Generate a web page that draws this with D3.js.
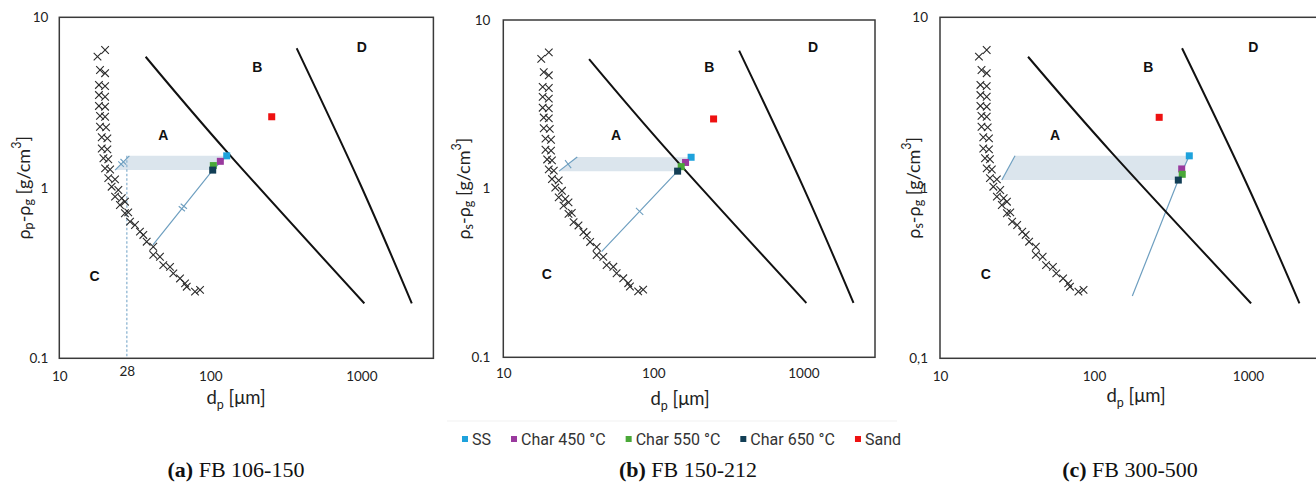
<!DOCTYPE html>
<html>
<head>
<meta charset="utf-8">
<script src="https://cdn.jsdelivr.net/npm/d3@7"></script>
<style>
  body { margin: 0; background: #fff; }
  svg { display: block; }
</style>
</head>
<body>
<svg id="chart" width="1316" height="482"></svg>
<script>
// ---- Data ---------------------------------------------------------------
const xTickValues = [10, 100, 1000];
const yTickValues = [0.1, 1, 10];
const yTickLabelsDot = ["0.1", "1", "10"];
const yTickLabelsComma = ["0,1", "1", "10"];

// Geldart group boundaries: dp [µm], density difference [g/cm3]
const boundaryCA = [
  [20.1, 6.43], [17.9, 5.88], [18.6, 4.91], [20.1, 4.70], [18.3, 4.01], [20.1, 3.95],
  [18.3, 3.50], [20.1, 3.42], [18.3, 3.02], [20.1, 2.99], [18.6, 2.64], [20.1, 2.61],
  [18.6, 2.28], [20.4, 2.26], [19.1, 1.98], [20.8, 1.95], [19.1, 1.70], [20.8, 1.68],
  [19.6, 1.49], [21.1, 1.47], [20.1, 1.30], [21.7, 1.28], [21.1, 1.14], [23.4, 1.12],
  [22.2, 1.015], [24.6, 0.971], [23.4, 0.887], [25.9, 0.868], [25.2, 0.793], [27.2, 0.829],
  [27.2, 0.709], [28.6, 0.718], [29.4, 0.633], [31.7, 0.605], [34.2, 0.553], [36.0, 0.529],
  [37.9, 0.483], [41.9, 0.451], [41.9, 0.404], [46.4, 0.394], [48.8, 0.352], [54.1, 0.344],
  [56.9, 0.315], [63.0, 0.294], [68.0, 0.275], [69.8, 0.263], [79.2, 0.246], [85.5, 0.252]
];
const boundaryAB = [[37.3, 5.87], [131.5, 1.593], [1047, 0.21]];
const boundaryBD = [[373, 6.58], [979, 1.06], [2158, 0.21]];

// Materials
const seriesNames = ["SS", "Char 450 \u00B0C", "Char 550 \u00B0C", "Char 650 \u00B0C", "Sand"];
const seriesColors = ["#1ea2dc", "#9a3a9e", "#4aa838", "#123e55", "#ee1111"];

// (a) FB 106-150
const sizesA = [128.4, 116.5, 104.7, 103.7, 255];
const densA = [1.54, 1.43, 1.35, 1.27, 2.61];
const leftShiftA = [[23.4, 1.27], [29.1, 1.54]];
const rightStartA = [41.7, 0.462];
// (b) FB 150-212
const sizesB = [178.5, 163.9, 153.3, 145.1, 252];
const densB = [1.535, 1.43, 1.35, 1.27, 2.59];
const leftShiftB = [[23.5, 1.27], [31.1, 1.54]];
const rightStartB = [45.2, 0.423];
// (c) FB 300-500
const sizesC = [415.6, 371, 374, 352.7, 265];
const densC = [1.54, 1.29, 1.20, 1.11, 2.59];
const leftShiftC = [[25.2, 1.11], [30.7, 1.54]];
const rightStartC = [177.3, 0.232];

const cutSizeA = 28;

// ---- Layout -------------------------------------------------------------
const panels = [
  { left: 59.3, right: 433.4, top: 17.3, bottom: 358.3, sizes: sizesA, dens: densA,
    leftShift: leftShiftA, rightStart: rightStartA, ticks: "double", yLabels: yTickLabelsDot,
    sub1: "p", cut: cutSizeA, yTitleX: 23, xTitleX: 236, xTitleY: 404, yPad: 11, xPad: 13,
    regionLabels: { A: [48.9, 2.04], B: [204.6, 5.13], C: [17.1, 0.304], D: [1006, 6.67] },
    capX: 236, capTag: "(a)", capText: " FB 106-150" },
  { left: 503.3, right: 875, top: 20, bottom: 357.3, sizes: sizesB, dens: densB,
    leftShift: leftShiftB, rightStart: rightStartB, ticks: "single", yLabels: yTickLabelsDot,
    sub1: "s", cut: null, yTitleX: 463, xTitleX: 680, xTitleY: 405, yPad: 13, xPad: 11,
    regionLabels: { A: [56.4, 2.08], B: [236, 5.28], C: [19.5, 0.312], D: [1159, 6.89] },
    capX: 688, capTag: "(b)", capText: " FB 150-212" },
  { left: 940, right: 1321.5, top: 17.3, bottom: 358.3, sizes: sizesC, dens: densC,
    leftShift: leftShiftC, rightStart: rightStartC, ticks: "none", yLabels: yTickLabelsComma,
    sub1: "s", cut: null, yTitleX: 913, xTitleX: 1136, xTitleY: 402, yPad: 12, xPad: 13,
    regionLabels: { A: [55.8, 2.04], B: [225, 5.13], C: [19.8, 0.312], D: [1082, 6.67] },
    capX: 1130, capTag: "(c)", capText: " FB 300-500" }
];

const svg = d3.select("#chart");
const tickFont = "Lato, 'Open Sans', sans-serif";

panels.forEach(p => {
  const x = d3.scaleLog().domain([10, 3000]).range([p.left, p.right]);
  const y = d3.scaleLog().domain([0.1, 10]).range([p.bottom, p.top]);
  const g = svg.append("g");
  const pt = d => [x(d[0]), y(d[1])];

  // shaded band between the two shift lines
  const band = [
    p.leftShift[0], p.leftShift[1],
    [p.sizes[0], p.dens[0]], [p.sizes[3], p.dens[3]]
  ];
  g.append("path")
    .attr("d", d3.line().x(d => x(d[0])).y(d => y(d[1]))(band) + "Z")
    .attr("fill", "#dbe5ed");

  // cut size marker line
  if (p.cut) {
    g.append("line")
      .attr("x1", x(p.cut)).attr("x2", x(p.cut))
      .attr("y1", y(p.dens[0])).attr("y2", p.bottom)
      .attr("stroke", "#8db5d2").attr("stroke-width", 1.3)
      .attr("stroke-dasharray", "2.5,2");
  }

  // shift lines
  const shiftLine = d3.line().x(d => x(d[0])).y(d => y(d[1]));
  const leftPts = p.leftShift;
  const rightPts = [p.rightStart, [p.sizes[3], p.dens[3]], [p.sizes[0], p.dens[0]]];
  [leftPts, rightPts].forEach(pts => {
    g.append("path").attr("d", shiftLine(pts))
      .attr("fill", "none").attr("stroke", "#6e9fc0").attr("stroke-width", 1.2);
  });

  // break ticks on the shift lines
  if (p.ticks !== "none") {
    [[leftPts[0], leftPts[1]], [rightPts[0], rightPts[1]]].forEach(([a, b]) => {
      const [x1, y1] = pt(a), [x2, y2] = pt(b);
      const mx = (x1 + x2) / 2, my = (y1 + y2) / 2;
      const len = Math.hypot(x2 - x1, y2 - y1);
      const ux = (x2 - x1) / len, uy = (y2 - y1) / len;
      const nx = -uy, ny = ux;
      const offs = p.ticks === "double" ? [-1.6, 1.6] : [0];
      const half = p.ticks === "double" ? 4 : 5;
      offs.forEach(o => {
        g.append("line")
          .attr("x1", mx + ux * o - nx * half).attr("y1", my + uy * o - ny * half)
          .attr("x2", mx + ux * o + nx * half).attr("y2", my + uy * o + ny * half)
          .attr("stroke", "#6e9fc0").attr("stroke-width", 1.1);
      });
    });
  }

  // A/B and B/D boundaries
  const curve = d3.line().x(d => x(d[0])).y(d => y(d[1])).curve(d3.curveNatural);
  [boundaryAB, boundaryBD].forEach(b => {
    g.append("path").attr("d", curve(b))
      .attr("fill", "none").attr("stroke", "#111").attr("stroke-width", 2);
  });

  // C/A boundary as cross markers
  g.append("g").selectAll("path").data(boundaryCA).join("path")
    .attr("transform", d => `translate(${x(d[0])},${y(d[1])})`)
    .attr("d", "M-3.8,-3.8L3.8,3.8M-3.8,3.8L3.8,-3.8")
    .attr("stroke", "#2b2b2b").attr("stroke-width", 1.1).attr("fill", "none");

  // material points
  const pts = p.sizes.map((s, i) => ({ s, d: p.dens[i], c: seriesColors[i] }));
  g.append("g").selectAll("rect").data(pts).join("rect")
    .attr("x", d => x(d.s) - 3.5).attr("y", d => y(d.d) - 3.5)
    .attr("width", 7).attr("height", 7)
    .attr("fill", d => d.c);

  // region letters
  Object.entries(p.regionLabels).forEach(([k, v]) => {
    g.append("text").attr("x", x(v[0])).attr("y", y(v[1]))
      .attr("text-anchor", "middle").attr("dominant-baseline", "central")
      .attr("font-family", "'Liberation Sans', Arial, sans-serif")
      .attr("font-weight", "bold").attr("font-size", 14).attr("fill", "#111")
      .text(k);
  });

  // frame
  g.append("rect")
    .attr("x", p.left).attr("y", p.top)
    .attr("width", p.right - p.left).attr("height", p.bottom - p.top)
    .attr("fill", "none").attr("stroke", "#3a3a3a").attr("stroke-width", 1.5);

  // axes
  const xTicks = p.cut ? xTickValues.concat([p.cut]) : xTickValues;
  const xAxis = g.append("g").attr("transform", `translate(0,${p.bottom})`)
    .call(d3.axisBottom(x).tickValues(xTicks).tickSize(0).tickPadding(p.xPad)
      .tickFormat(d => String(d)));
  xAxis.select(".domain").remove();
  xAxis.selectAll("text")
    .attr("font-family", tickFont).attr("font-size", 13.5).attr("fill", "#222")
    .attr("dy", d => d === p.cut ? "0.35em" : "0.71em");

  const yAxis = g.append("g").attr("transform", `translate(${p.left},0)`)
    .call(d3.axisLeft(y).tickValues(yTickValues).tickSize(0).tickPadding(p.yPad)
      .tickFormat((d, i) => p.yLabels[i]));
  yAxis.select(".domain").remove();
  yAxis.selectAll("text")
    .attr("font-family", tickFont).attr("font-size", 13.5).attr("fill", "#222");

  // axis titles
  const xt = g.append("text").attr("x", p.xTitleX).attr("y", p.xTitleY)
    .attr("text-anchor", "middle").attr("font-family", tickFont)
    .attr("font-size", 18.5).attr("fill", "#222");
  xt.append("tspan").text("d");
  xt.append("tspan").attr("font-size", 12.5).attr("dy", 5).text("p");
  xt.append("tspan").attr("dy", -5).text(" [\u03BCm]");

  const yt = g.append("text")
    .attr("transform", `translate(${p.yTitleX},${(p.top + p.bottom) / 2}) rotate(-90)`)
    .attr("text-anchor", "middle").attr("dominant-baseline", "central")
    .attr("font-family", tickFont).attr("font-size", 18).attr("fill", "#222");
  yt.append("tspan").text("\u03C1");
  yt.append("tspan").attr("font-size", 12.5).attr("dy", 5).text(p.sub1);
  yt.append("tspan").attr("dy", -5).text("-\u03C1");
  yt.append("tspan").attr("font-size", 12.5).attr("dy", 5).text("g");
  yt.append("tspan").attr("dy", -5).text(" [g/cm");
  yt.append("tspan").attr("font-size", 12.5).attr("dy", -7).text("3");
  yt.append("tspan").attr("dy", 7).text("]");

  // caption
  const cap = svg.append("text").attr("x", p.capX).attr("y", 477)
    .attr("text-anchor", "middle")
    .attr("font-family", "'Liberation Serif', 'Times New Roman', serif")
    .attr("font-size", 22).attr("fill", "#111");
  cap.append("tspan").attr("font-weight", "bold").text(p.capTag);
  cap.append("tspan").text(p.capText);
});

// ---- Legend -------------------------------------------------------------
svg.append("line").attr("x1", 447).attr("x2", 897).attr("y1", 421).attr("y2", 421)
  .attr("stroke", "#f1f1f1").attr("stroke-width", 1);

const legend = svg.append("g").attr("transform", "translate(462,439)");
let cursor = 0;
seriesNames.forEach((name, i) => {
  const item = legend.append("g").attr("transform", `translate(${cursor},0)`);
  item.append("rect").attr("x", 0).attr("y", -3).attr("width", 6).attr("height", 6)
    .attr("fill", seriesColors[i]);
  const t = item.append("text").attr("x", 10).attr("y", 0)
    .attr("dominant-baseline", "central")
    .attr("font-family", "Roboto, 'Noto Sans', sans-serif")
    .attr("font-size", 16).attr("fill", "#333").text(name);
  cursor += 10 + t.node().getComputedTextLength() + 20;
});
</script>
</body>
</html>
